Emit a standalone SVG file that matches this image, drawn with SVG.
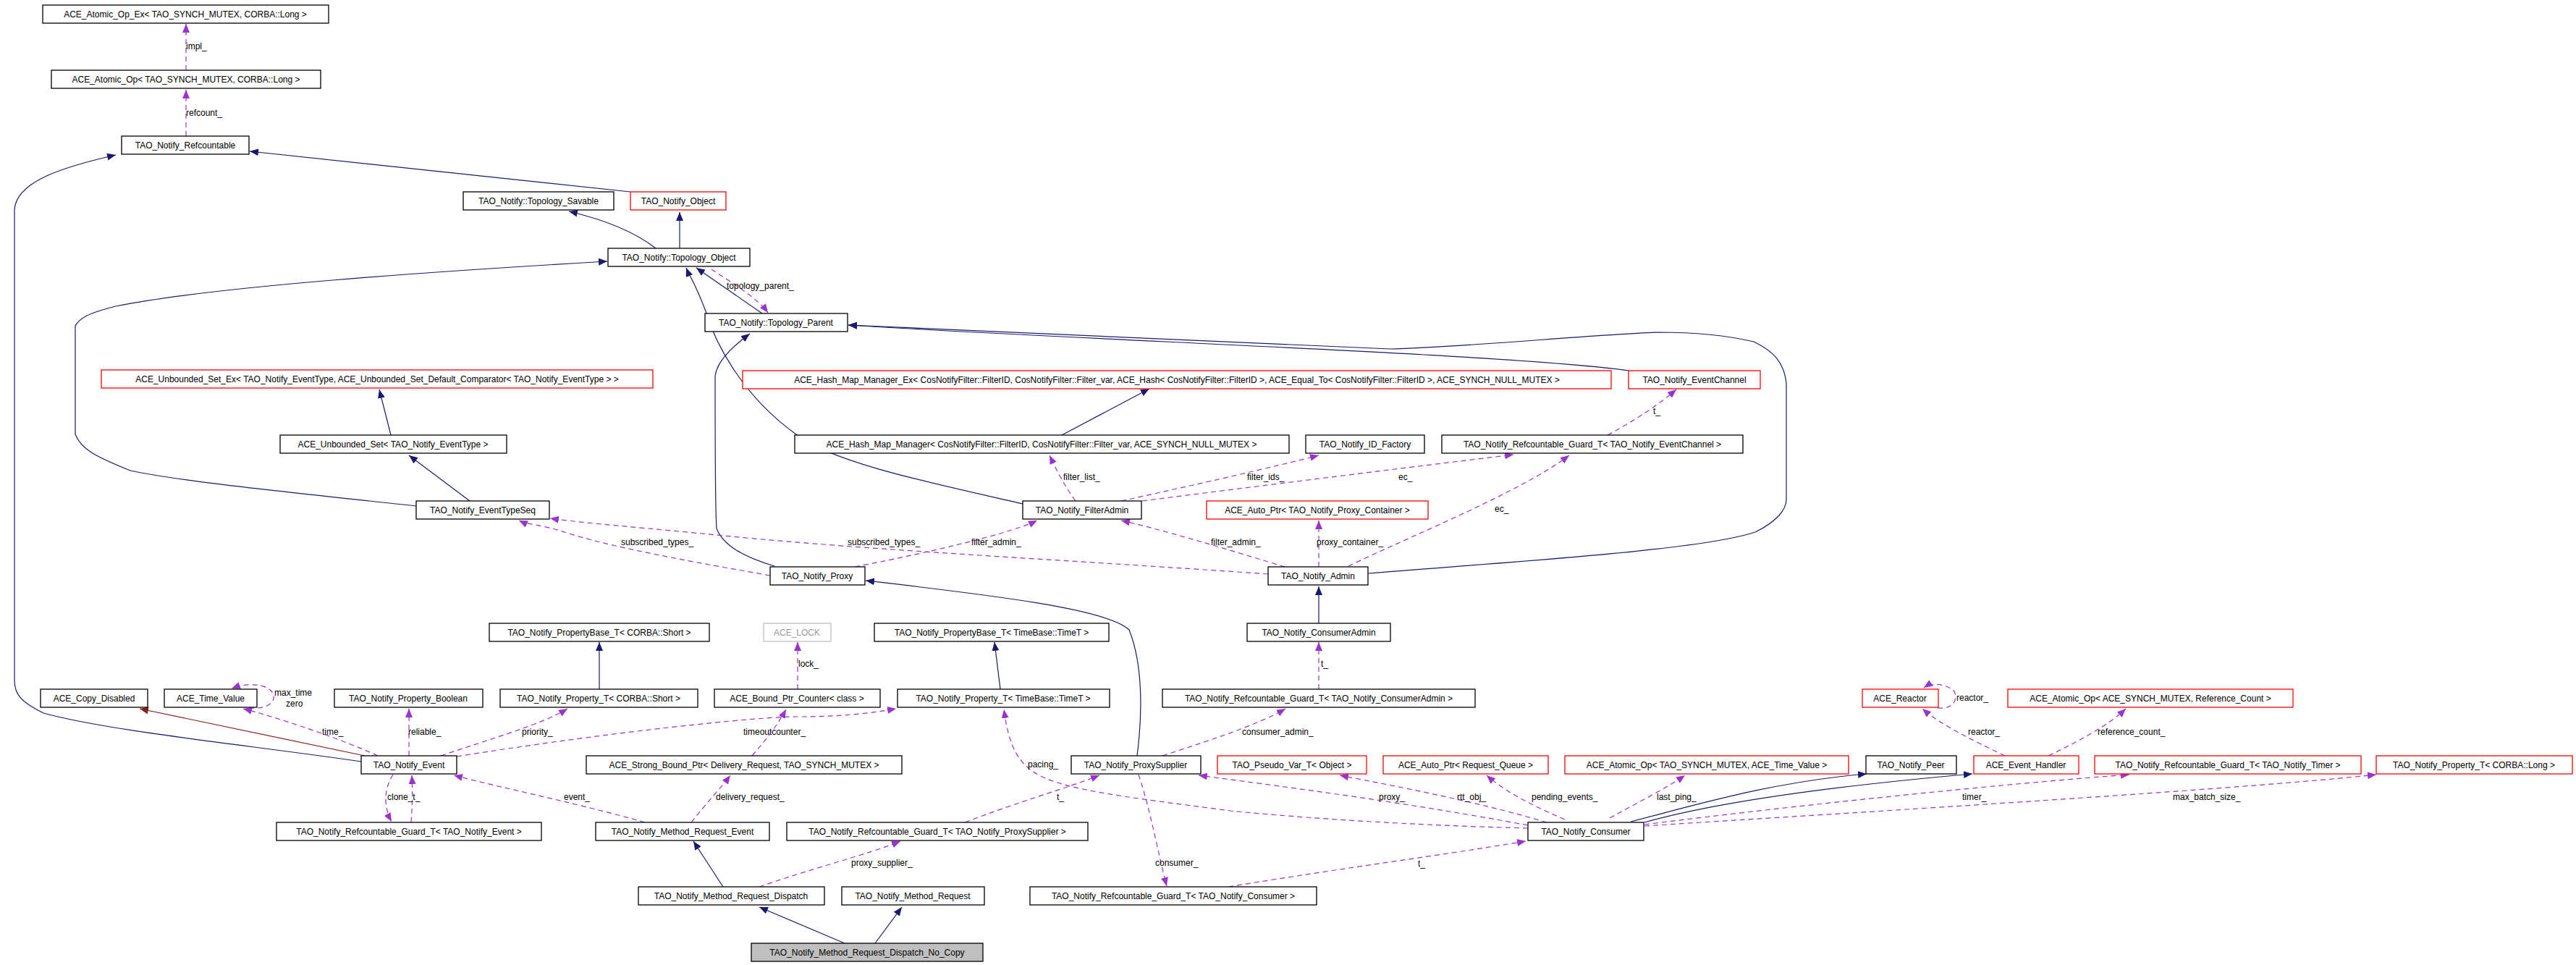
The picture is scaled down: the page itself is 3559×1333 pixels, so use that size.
<svg xmlns="http://www.w3.org/2000/svg" width="3559" height="1333" viewBox="0 0 3559 1333">
<style>
.n rect{fill:#fff;stroke:#000;stroke-width:1.3}
.n.r rect{stroke:#ff0000}
.n.g rect{stroke:#bfbfbf}
.n.g text{fill:#999}
.n.s rect{fill:#bfbfbf}
text{font-family:"Liberation Sans",Arial,sans-serif;font-size:12px;fill:#000}
.n text{text-anchor:middle}
.i{fill:none;stroke:#191970;stroke-width:1.2;marker-end:url(#ai)}
.p{fill:none;stroke:#8b1a1a;stroke-width:1.2;marker-end:url(#ap)}
.c{fill:none;stroke:#9a32cd;stroke-width:1.2;stroke-dasharray:7,5;marker-end:url(#ac)}
</style>
<defs>
<marker id="ai" markerUnits="userSpaceOnUse" markerWidth="14" markerHeight="10" refX="12" refY="5" orient="auto"><path d="M0,0L12,5L0,10z" fill="#191970"/></marker>
<marker id="ap" markerUnits="userSpaceOnUse" markerWidth="14" markerHeight="10" refX="12" refY="5" orient="auto"><path d="M0,0L12,5L0,10z" fill="#8b1a1a"/></marker>
<marker id="ac" markerUnits="userSpaceOnUse" markerWidth="14" markerHeight="10" refX="12" refY="5" orient="auto"><path d="M0,0L12,5L0,10z" fill="#9a32cd"/></marker>
</defs>
<rect width="3559" height="1333" fill="#fff"/>
<g id="edges">
<path class="c" d="M257,97V33"/><text x="257" y="68">impl_</text>
<path class="c" d="M257,188V124"/><text x="257" y="160">refcount_</text>
<path class="i" d="M871,265L345,209"/>
<path class="i" d="M499,1052C350,1030 150,1010 60,985C30,970 20,960 20,940V290C22,250 90,230 160,214"/>
<path class="i" d="M906,343C870,315 820,300 786,292"/>
<path class="i" d="M939,343V293"/>
<path class="i" d="M1053,433L962,370"/>
<path class="c" d="M983,372C1010,390 1045,410 1061,432"/><text x="1004" y="399">topology_parent_</text>
<path class="i" d="M575,699C400,680 250,665 180,650C130,630 112,620 104,600V450C110,440 120,433 160,423C300,395 600,375 839,361"/>
<path class="i" d="M1413,696C1300,670 1150,640 1100,600C1030,550 990,480 975,430C960,390 952,380 948,370"/>
<path class="i" d="M1070,782C1030,770 1000,755 990,730C988,700 988,600 988,520C990,500 1010,480 1036,461"/>
<path class="i" d="M2250,512C2100,490 1500,470 1172,449"/>
<path class="i" d="M1890,792C2100,775 2350,760 2425,735C2456,720 2468,703 2468,690V530C2465,500 2450,485 2423,472C2380,462 2330,459 2291,459C2200,462 2020,480 1920,482C1600,470 1350,458 1172,449"/>
<path class="i" d="M1467,601L1588,537"/>
<path class="i" d="M540,601L524,538"/>
<path class="i" d="M649,692L565,629"/>
<path class="c" d="M1064,795C950,775 840,755 780,735C750,725 730,725 717,719"/><text x="858" y="753">subscribed_types_</text>
<path class="c" d="M1752,793C1500,775 1200,760 1000,740C900,730 800,722 760,716"/><text x="1171" y="753">subscribed_types_</text>
<path class="c" d="M1181,783C1300,760 1400,735 1433,719"/><text x="1342" y="753">filter_admin_</text>
<path class="c" d="M1775,783C1700,760 1600,730 1549,719"/><text x="1673" y="753">filter_admin_</text>
<path class="c" d="M1486,692C1470,670 1460,650 1450,629"/><text x="1469" y="663">filter_list_</text>
<path class="c" d="M1549,692C1650,670 1760,645 1822,629"/><text x="1723" y="663">filter_ids_</text>
<path class="c" d="M1578,692C1750,670 1950,645 2091,628"/><text x="1932" y="663">ec_</text>
<path class="c" d="M1863,782C1950,740 2100,680 2168,629"/><text x="2065" y="707">ec_</text>
<path class="c" d="M1822,783V719"/><text x="1819" y="753">proxy_container_</text>
<path class="c" d="M2221,601C2260,580 2290,560 2316,538"/><text x="2284" y="572">t_</text>
<path class="i" d="M1571,1044C1578,990 1580,920 1560,870C1530,840 1350,820 1196,802"/>
<path class="i" d="M1822,861V810"/>
<path class="c" d="M1822,952V887"/><text x="1825" y="921">t_</text>
<path class="c" d="M1606,1044C1680,1020 1740,1000 1776,979"/><text x="1716" y="1015">consumer_admin_</text>
<path class="i" d="M828,952V887"/>
<path class="i" d="M1382,952L1374,887"/>
<path class="c" d="M1102,952V887"/><text x="1103" y="921">lock_</text>
<path class="p" d="M504,1044L193,979"/>
<path class="c" d="M344,978C370,980 380,970 378,960C375,948 350,940 320,951"/><text x="379" y="961">max_time</text><text x="395" y="976">zero</text>
<path class="c" d="M522,1044C470,1020 380,990 336,979"/><text x="445" y="1015">time_</text>
<path class="c" d="M565,1044V979"/><text x="564" y="1015">reliable_</text>
<path class="c" d="M609,1044C680,1020 750,1000 784,979"/><text x="721" y="1015">priority_</text>
<path class="c" d="M631,1045C850,1010 1050,990 1100,990C1180,990 1220,982 1238,979"/><text x="1027" y="1015">timeoutcounter_</text>
<path class="c" d="M1039,1044C1060,1020 1075,1000 1086,980"/>
<path class="c" d="M955,1136C975,1110 995,1090 1009,1071"/><text x="989" y="1105">delivery_request_</text>
<path class="c" d="M891,1136C800,1110 700,1090 627,1071"/><text x="779" y="1105">event_</text>
<path class="c" d="M568,1136C570,1110 570,1090 569,1071"/>
<path class="c" d="M543,1070C530,1090 530,1115 541,1135"/><text x="535" y="1105">clone_t_</text>
<path class="i" d="M999,1225L958,1162"/>
<path class="c" d="M1049,1225C1120,1200 1200,1180 1244,1162"/><text x="1176" y="1196">proxy_supplier_</text>
<path class="c" d="M1333,1136C1400,1110 1470,1090 1519,1071"/><text x="1460" y="1105">t_</text>
<path class="c" d="M1573,1070C1590,1120 1600,1180 1612,1224"/><text x="1596" y="1196">consumer_</text>
<path class="c" d="M1697,1225C1850,1200 2000,1180 2108,1162"/><text x="1959" y="1197">t_</text>
<path class="i" d="M1167,1303L1049,1253"/>
<path class="i" d="M1209,1303L1246,1253"/>
<path class="c" d="M2111,1140C1950,1110 1800,1090 1656,1071"/><text x="1905" y="1105">proxy_</text>
<path class="c" d="M2111,1144C1950,1140 1800,1130 1700,1120C1550,1100 1450,1090 1420,1060C1395,1040 1390,1000 1387,980"/><text x="1420" y="1060">pacing_</text>
<path class="c" d="M2137,1136C2050,1110 1950,1090 1851,1071"/><text x="2013" y="1105">rtt_obj_</text>
<path class="c" d="M2162,1132C2110,1110 2075,1090 2054,1071"/><text x="2116" y="1105">pending_events_</text>
<path class="c" d="M2224,1130C2260,1110 2300,1090 2328,1071"/><text x="2289" y="1105">last_ping_</text>
<path class="i" d="M2253,1135C2350,1110 2450,1080 2579,1069"/>
<path class="i" d="M2272,1136C2400,1100 2600,1080 2725,1069"/>
<path class="c" d="M2272,1139C2500,1110 2800,1080 2942,1070"/><text x="2711" y="1105">timer_</text>
<path class="c" d="M2272,1141C2600,1120 3100,1090 3283,1070"/><text x="3002" y="1105">max_batch_size_</text>
<path class="c" d="M2677,978C2700,980 2705,965 2700,955C2690,945 2670,942 2658,950"/><text x="2703" y="968">reactor_</text>
<path class="c" d="M2770,1044C2720,1020 2680,1000 2656,979"/><text x="2719" y="1015">reactor_</text>
<path class="c" d="M2830,1044C2880,1020 2915,1000 2937,979"/><text x="2898" y="1015">reference_count_</text>
</g>
<g id="n1" class="n"><rect x="59" y="7" width="395" height="25"/><text x="256" y="24">ACE_Atomic_Op_Ex&lt; TAO_SYNCH_MUTEX, CORBA::Long &gt;</text></g>
<g id="n2" class="n"><rect x="71" y="97" width="372" height="25"/><text x="257" y="114">ACE_Atomic_Op&lt; TAO_SYNCH_MUTEX, CORBA::Long &gt;</text></g>
<g id="n3" class="n"><rect x="168" y="188" width="176" height="25"/><text x="256" y="205">TAO_Notify_Refcountable</text></g>
<g id="n4" class="n"><rect x="640" y="265" width="208" height="25"/><text x="744" y="282">TAO_Notify::Topology_Savable</text></g>
<g id="n5" class="n r"><rect x="871" y="265" width="132" height="25"/><text x="937" y="282">TAO_Notify_Object</text></g>
<g id="n6" class="n"><rect x="840" y="343" width="196" height="25"/><text x="938" y="360">TAO_Notify::Topology_Object</text></g>
<g id="n7" class="n"><rect x="974" y="433" width="197" height="25"/><text x="1072" y="450">TAO_Notify::Topology_Parent</text></g>
<g id="n8" class="n r"><rect x="140" y="511" width="762" height="25"/><text x="521" y="528">ACE_Unbounded_Set_Ex&lt; TAO_Notify_EventType, ACE_Unbounded_Set_Default_Comparator&lt; TAO_Notify_EventType &gt; &gt;</text></g>
<g id="n9" class="n r"><rect x="1026" y="512" width="1200" height="25"/><text x="1626" y="529">ACE_Hash_Map_Manager_Ex&lt; CosNotifyFilter::FilterID, CosNotifyFilter::Filter_var, ACE_Hash&lt; CosNotifyFilter::FilterID &gt;, ACE_Equal_To&lt; CosNotifyFilter::FilterID &gt;, ACE_SYNCH_NULL_MUTEX &gt;</text></g>
<g id="n10" class="n r"><rect x="2250" y="512" width="182" height="25"/><text x="2341" y="529">TAO_Notify_EventChannel</text></g>
<g id="n11" class="n"><rect x="387" y="601" width="313" height="25"/><text x="543" y="618">ACE_Unbounded_Set&lt; TAO_Notify_EventType &gt;</text></g>
<g id="n12" class="n"><rect x="1098" y="601" width="683" height="25"/><text x="1439" y="618">ACE_Hash_Map_Manager&lt; CosNotifyFilter::FilterID, CosNotifyFilter::Filter_var, ACE_SYNCH_NULL_MUTEX &gt;</text></g>
<g id="n13" class="n"><rect x="1804" y="601" width="164" height="25"/><text x="1886" y="618">TAO_Notify_ID_Factory</text></g>
<g id="n14" class="n"><rect x="1992" y="601" width="416" height="25"/><text x="2200" y="618">TAO_Notify_Refcountable_Guard_T&lt; TAO_Notify_EventChannel &gt;</text></g>
<g id="n15" class="n"><rect x="575" y="692" width="184" height="25"/><text x="667" y="709">TAO_Notify_EventTypeSeq</text></g>
<g id="n16" class="n"><rect x="1413" y="692" width="164" height="25"/><text x="1495" y="709">TAO_Notify_FilterAdmin</text></g>
<g id="n17" class="n r"><rect x="1667" y="692" width="306" height="25"/><text x="1820" y="709">ACE_Auto_Ptr&lt; TAO_Notify_Proxy_Container &gt;</text></g>
<g id="n18" class="n"><rect x="1064" y="783" width="131" height="25"/><text x="1129" y="800">TAO_Notify_Proxy</text></g>
<g id="n19" class="n"><rect x="1752" y="783" width="138" height="25"/><text x="1821" y="800">TAO_Notify_Admin</text></g>
<g id="n20" class="n"><rect x="676" y="861" width="304" height="25"/><text x="828" y="878">TAO_Notify_PropertyBase_T&lt; CORBA::Short &gt;</text></g>
<g id="n21" class="n g"><rect x="1055" y="861" width="93" height="25"/><text x="1101" y="878">ACE_LOCK</text></g>
<g id="n22" class="n"><rect x="1208" y="861" width="324" height="25"/><text x="1370" y="878">TAO_Notify_PropertyBase_T&lt; TimeBase::TimeT &gt;</text></g>
<g id="n23" class="n"><rect x="1723" y="861" width="198" height="25"/><text x="1822" y="878">TAO_Notify_ConsumerAdmin</text></g>
<g id="n24" class="n"><rect x="56" y="952" width="148" height="25"/><text x="130" y="969">ACE_Copy_Disabled</text></g>
<g id="n25" class="n"><rect x="227" y="952" width="128" height="25"/><text x="291" y="969">ACE_Time_Value</text></g>
<g id="n26" class="n"><rect x="462" y="952" width="205" height="25"/><text x="564" y="969">TAO_Notify_Property_Boolean</text></g>
<g id="n27" class="n"><rect x="691" y="952" width="273" height="25"/><text x="827" y="969">TAO_Notify_Property_T&lt; CORBA::Short &gt;</text></g>
<g id="n28" class="n"><rect x="987" y="952" width="229" height="25"/><text x="1101" y="969">ACE_Bound_Ptr_Counter&lt; class &gt;</text></g>
<g id="n29" class="n"><rect x="1240" y="952" width="293" height="25"/><text x="1386" y="969">TAO_Notify_Property_T&lt; TimeBase::TimeT &gt;</text></g>
<g id="n30" class="n"><rect x="1606" y="952" width="432" height="25"/><text x="1822" y="969">TAO_Notify_Refcountable_Guard_T&lt; TAO_Notify_ConsumerAdmin &gt;</text></g>
<g id="n31" class="n r"><rect x="2573" y="952" width="105" height="25"/><text x="2625" y="969">ACE_Reactor</text></g>
<g id="n32" class="n r"><rect x="2774" y="952" width="394" height="25"/><text x="2971" y="969">ACE_Atomic_Op&lt; ACE_SYNCH_MUTEX, Reference_Count &gt;</text></g>
<g id="n33" class="n"><rect x="499" y="1044" width="132" height="25"/><text x="565" y="1061">TAO_Notify_Event</text></g>
<g id="n34" class="n"><rect x="810" y="1044" width="436" height="25"/><text x="1028" y="1061">ACE_Strong_Bound_Ptr&lt; Delivery_Request, TAO_SYNCH_MUTEX &gt;</text></g>
<g id="n35" class="n"><rect x="1480" y="1044" width="179" height="25"/><text x="1569" y="1061">TAO_Notify_ProxySupplier</text></g>
<g id="n36" class="n r"><rect x="1682" y="1044" width="206" height="25"/><text x="1785" y="1061">TAO_Pseudo_Var_T&lt; Object &gt;</text></g>
<g id="n37" class="n r"><rect x="1911" y="1044" width="228" height="25"/><text x="2025" y="1061">ACE_Auto_Ptr&lt; Request_Queue &gt;</text></g>
<g id="n38" class="n r"><rect x="2162" y="1044" width="392" height="25"/><text x="2358" y="1061">ACE_Atomic_Op&lt; TAO_SYNCH_MUTEX, ACE_Time_Value &gt;</text></g>
<g id="n39" class="n"><rect x="2578" y="1044" width="125" height="25"/><text x="2640" y="1061">TAO_Notify_Peer</text></g>
<g id="n40" class="n r"><rect x="2727" y="1044" width="145" height="25"/><text x="2799" y="1061">ACE_Event_Handler</text></g>
<g id="n41" class="n r"><rect x="2894" y="1044" width="368" height="25"/><text x="3078" y="1061">TAO_Notify_Refcountable_Guard_T&lt; TAO_Notify_Timer &gt;</text></g>
<g id="n42" class="n r"><rect x="3283" y="1044" width="271" height="25"/><text x="3418" y="1061">TAO_Notify_Property_T&lt; CORBA::Long &gt;</text></g>
<g id="n43" class="n"><rect x="382" y="1136" width="366" height="25"/><text x="565" y="1153">TAO_Notify_Refcountable_Guard_T&lt; TAO_Notify_Event &gt;</text></g>
<g id="n44" class="n"><rect x="823" y="1136" width="240" height="25"/><text x="943" y="1153">TAO_Notify_Method_Request_Event</text></g>
<g id="n45" class="n"><rect x="1087" y="1136" width="416" height="25"/><text x="1295" y="1153">TAO_Notify_Refcountable_Guard_T&lt; TAO_Notify_ProxySupplier &gt;</text></g>
<g id="n46" class="n"><rect x="2111" y="1136" width="160" height="25"/><text x="2191" y="1153">TAO_Notify_Consumer</text></g>
<g id="n47" class="n"><rect x="882" y="1225" width="257" height="25"/><text x="1010" y="1242">TAO_Notify_Method_Request_Dispatch</text></g>
<g id="n48" class="n"><rect x="1163" y="1225" width="197" height="25"/><text x="1261" y="1242">TAO_Notify_Method_Request</text></g>
<g id="n49" class="n"><rect x="1423" y="1225" width="396" height="25"/><text x="1621" y="1242">TAO_Notify_Refcountable_Guard_T&lt; TAO_Notify_Consumer &gt;</text></g>
<g id="n50" class="n s"><rect x="1038" y="1303" width="320" height="25"/><text x="1198" y="1320">TAO_Notify_Method_Request_Dispatch_No_Copy</text></g>
</svg>
